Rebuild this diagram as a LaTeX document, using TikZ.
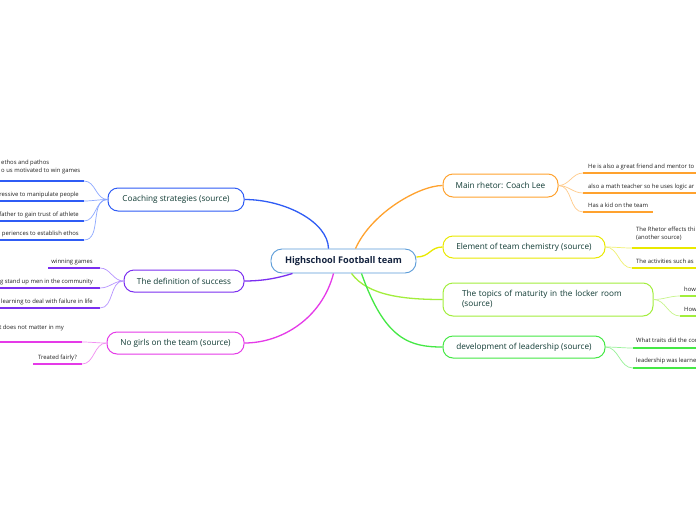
\documentclass[tikz,border=0pt]{standalone}
\usepackage{fontspec}
\setmainfont{Open Sans}
\usetikzlibrary{calc}
\definecolor{cblue}{HTML}{2F5CF5}
\definecolor{lblue}{HTML}{8DA8FF}
\definecolor{cpurple}{HTML}{7B2FF0}
\definecolor{lpurple}{HTML}{B794FF}
\definecolor{cmag}{HTML}{E53AE8}
\definecolor{lmag}{HTML}{F28EF2}
\definecolor{corange}{HTML}{FFA22E}
\definecolor{lorange}{HTML}{FFCB8A}
\definecolor{cyellow}{HTML}{E9E900}
\definecolor{lyellow}{HTML}{F0F070}
\definecolor{clgreen}{HTML}{A2EE3C}
\definecolor{llgreen}{HTML}{C8F58C}
\definecolor{cgreen}{HTML}{45E845}
\definecolor{lgreen}{HTML}{98F298}
\definecolor{cborder}{HTML}{5A9BD8}
\definecolor{maintxt}{HTML}{0F3A33}
\definecolor{centtxt}{HTML}{14233F}
\definecolor{leaftxt}{HTML}{222222}
\begin{document}
\begin{tikzpicture}[x=1pt,y=-1pt,
  mainbox/.style={draw=#1, line width=1pt, rounded corners=10pt, fill=white,
    font=\fontsize{8.2}{10}\selectfont, text=maintxt, inner sep=0pt},
  leaftext/.style={font=\fontsize{5.9}{8}\selectfont, text=leaftxt, inner sep=0pt},
  branch/.style={draw=#1, line width=1.3pt},
  twig/.style={draw=#1, line width=0.7pt},
  uline/.style={draw=#1, line width=2.2pt}]
\clip (0,0) rectangle (696,520);
\fill[white] (0,0) rectangle (696,520);

% ---------- main nodes ----------
\node[mainbox=cblue, minimum width=136pt, minimum height=23pt] (m1) at (176,199.5) {Coaching strategies (source)};
\node[mainbox=cpurple, minimum width=120pt, minimum height=22pt] (m2) at (184,281) {The definition of success};
\node[mainbox=cmag, minimum width=137pt, minimum height=22pt] (m3) at (175.5,343) {No girls on the team (source)};
\node[mainbox=corange, minimum width=115pt, minimum height=23pt] (m4) at (500.5,185.5) {Main rhetor: Coach Lee};
\node[mainbox=cyellow, minimum width=162pt, minimum height=22pt] (m5) at (524,247) {Element of team chemistry (source)};
\node[mainbox=clgreen, minimum width=210pt, minimum height=33pt, text width=172pt, inner xsep=19pt, align=left] (m6) at (548,299.5) {The topics of maturity in the locker room\\(source)};
\node[mainbox=cgreen, minimum width=162pt, minimum height=22pt] (m7) at (524,347) {development of leadership (source)};

% ---------- central node ----------
\node[draw=cborder, line width=0.9pt, rounded corners=11pt, fill=white, minimum width=145pt, minimum height=24pt, inner sep=0pt,
  font=\fontsize{9.2}{11}\selectfont\bfseries, text=centtxt] (c) at (343.5,261) {Highschool Football team};

\coordinate (cb) at ($(c.north)+(-15,0)$);
\coordinate (co) at ($(c.north)+(12,0)$);
\coordinate (cy) at ($(c.east)+(0,-4)$);
\coordinate (clg) at ($(c.south)+(8,0)$);
\coordinate (cg) at ($(c.south)+(18,0)$);
\coordinate (cp) at ($(c.south west)+(22,0)$);
\coordinate (cm) at ($(c.south)+(-10,0)$);

\draw[branch=cblue] (cb) .. controls (328,222) and (285,199.5) .. (m1.east);
\draw[branch=corange] (co) .. controls (372,212) and (420,185.5) .. (m4.west);
\draw[branch=cyellow] (cy) .. controls (430,257) and (430,247) .. (m5.west);
\draw[branch=clgreen] (clg) .. controls (368,296) and (405,299.5) .. (m6.west);
\draw[branch=cgreen] (cg) .. controls (385,340) and (410,347) .. (m7.west);
\draw[branch=cpurple] (cp) .. controls (275,279) and (260,281) .. (m2.east);
\draw[branch=cmag] (cm) .. controls (322,318) and (282,343) .. (m3.east);

% ---------- Coaching strategies leaves ----------
\coordinate (b1a) at (-3,181); \coordinate (b1b) at (84,181);
\coordinate (b2a) at (-3,201); \coordinate (b2b) at (84,201);
\coordinate (b3a) at (-3,221); \coordinate (b3b) at (84,221);
\coordinate (b4a) at (-3,240); \coordinate (b4b) at (84,240);
\draw[uline=cblue] (b1a) -- (b1b); \draw[uline=cblue] (b2a) -- (b2b);
\draw[uline=cblue] (b3a) -- (b3b); \draw[uline=cblue] (b4a) -- (b4b);
\foreach \k in {1,2,3,4} \draw[twig=lblue] (m1.west) to[out=180,in=0] (b\k b);
\node[leaftext, align=left, anchor=north west] (t11) at (1,160) {ethos and pathos\\o us motivated to win games};
\node[leaftext, anchor=base east] (t12) at (79,196) {ressive to manipulate people};
\node[leaftext, anchor=base east] (t13) at (79,216) {father to gain trust of athlete};
\node[leaftext, anchor=base east] (t14) at (79,235) {periences to establish ethos};

% ---------- definition of success leaves ----------
\coordinate (p1a) at (48,268); \coordinate (p1b) at (100,268);
\coordinate (p2a) at (-3,288); \coordinate (p2b) at (100,288);
\coordinate (p3a) at (-3,308); \coordinate (p3b) at (100,308);
\draw[uline=cpurple] (p1a) -- (p1b); \draw[uline=cpurple] (p2a) -- (p2b); \draw[uline=cpurple] (p3a) -- (p3b);
\foreach \k in {1,2,3} \draw[twig=lpurple] (m2.west) to[out=180,in=0] (p\k b);
\node[leaftext, anchor=base east] (t21) at (93,263) {winning games};
\node[leaftext, anchor=base east] (t22) at (93,283) {ng stand up men in the community};
\node[leaftext, anchor=base east] (t23) at (93,303) {learning to deal with failure in life};

% ---------- No girls leaves ----------
\coordinate (g1a) at (-3,342); \coordinate (g1b) at (82,342);
\coordinate (g2a) at (33,364); \coordinate (g2b) at (82,364);
\draw[uline=cmag] (g1a) -- (g1b); \draw[uline=cmag] (g2a) -- (g2b);
\foreach \k in {1,2} \draw[twig=lmag] (m3.west) to[out=180,in=0] (g\k b);
\node[leaftext, anchor=base east] (t31) at (64,329.5) {t does not matter in my};
\node[leaftext, anchor=base east] (t32) at (77,359) {Treated fairly?};

% ---------- Main rhetor leaves ----------
\coordinate (o1a) at (583,173); \coordinate (o1b) at (700,173);
\coordinate (o2a) at (583,193); \coordinate (o2b) at (700,193);
\coordinate (o3a) at (583,212); \coordinate (o3b) at (653,212);
\draw[uline=corange] (o1a) -- (o1b); \draw[uline=corange] (o2a) -- (o2b); \draw[uline=corange] (o3a) -- (o3b);
\foreach \k in {1,2,3} \draw[twig=lorange] (m4.east) to[out=0,in=180] (o\k a);
\node[leaftext, anchor=base west] (t41) at (588,168) {He is also a great friend and mentor to};
\node[leaftext, anchor=base west] (t42) at (588,188) {also a math teacher so he uses logic ar};
\node[leaftext, anchor=base west] (t43) at (588,207) {Has a kid on the team};

% ---------- Element of team chemistry leaves ----------
\coordinate (y1a) at (632,248); \coordinate (y1b) at (700,248);
\coordinate (y2a) at (632,268); \coordinate (y2b) at (700,268);
\draw[uline=cyellow] (y1a) -- (y1b); \draw[uline=cyellow] (y2a) -- (y2b);
\foreach \k in {1,2} \draw[twig=lyellow] (m5.east) to[out=0,in=180] (y\k a);
\node[leaftext, align=left, anchor=north west] (t51) at (636,227) {The Rhetor effects thi\\(another source)};
\node[leaftext, anchor=base west] (t52) at (636,263) {The activities such as};

% ---------- topics of maturity leaves ----------
\coordinate (l1a) at (680,296); \coordinate (l1b) at (700,296);
\coordinate (l2a) at (680,316); \coordinate (l2b) at (700,316);
\draw[uline=clgreen] (l1a) -- (l1b); \draw[uline=clgreen] (l2a) -- (l2b);
\foreach \k in {1,2} \draw[twig=llgreen] (m6.east) to[out=0,in=180] (l\k a);
\node[leaftext, anchor=base west] (t61) at (684,291.5) {how};
\node[leaftext, anchor=base west] (t62) at (684,311.5) {How};

% ---------- development of leadership leaves ----------
\coordinate (d1a) at (633,348); \coordinate (d1b) at (700,348);
\coordinate (d2a) at (633,368); \coordinate (d2b) at (700,368);
\draw[uline=cgreen] (d1a) -- (d1b); \draw[uline=cgreen] (d2a) -- (d2b);
\foreach \k in {1,2} \draw[twig=lgreen] (m7.east) to[out=0,in=180] (d\k a);
\node[leaftext, anchor=base west] (t71) at (636,342.5) {What traits did the cor};
\node[leaftext, anchor=base west] (t72) at (636,362.5) {leadership was learne};
\end{tikzpicture}
\end{document}
